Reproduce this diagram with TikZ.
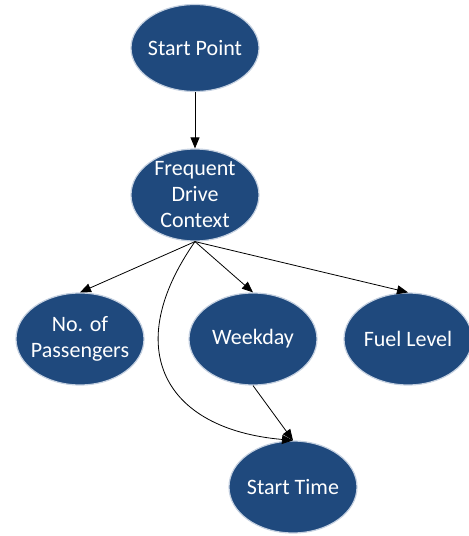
\documentclass[tikz,border=0pt]{standalone}
\usepackage{fontspec}
\setmainfont{Carlito}
\usepackage{xcolor}
\definecolor{ctxBlue}{RGB}{31, 73, 125}
\definecolor{ctxGlow}{RGB}{196, 208, 224}
\usetikzlibrary{
    shapes.geometric,
    arrows.meta,
    positioning
}
\begin{document}
\begin{tikzpicture}[
    x=1pt, y=1pt,
    ctxNode/.style={
        ellipse, fill=ctxBlue, draw=ctxGlow, line width=1.2pt,
        text=white, align=center, inner xsep=-40pt, inner ysep=-30pt,
        font=\fontsize{22}{26}\selectfont,
        minimum width=128pt, minimum height=92pt
    },
    ctxArrow/.style={
        -{Triangle[length=11pt, width=9pt]}, line width=0.8pt, draw=black
    }
]
    \useasboundingbox (0, 0) rectangle (469, 536);

    % Nodes
    \node[ctxNode, minimum height=87pt] (nStart) at (195, 488) {Start Point};
    \node[ctxNode] (nFreq) at (195, 341) {Frequent\\Drive\\Context};
    \node[ctxNode] (nPass) at (80, 197) {No. of\\Passengers};
    \node[ctxNode] (nWeek) at (253, 197) {Weekday};
    \node[ctxNode] (nFuel) at (408, 197) {Fuel Level};
    \node[ctxNode] (nTime) at (293, 49) {Start Time};

    % Connectors
    \draw[ctxArrow] (nStart.south) -- (nFreq.north);
    \draw[ctxArrow] (nFreq.south) -- (nPass.north);
    \draw[ctxArrow] (nFreq.south) -- (nWeek.north);
    \draw[ctxArrow] (nFreq.south) -- (nFuel.north);
    \draw[ctxArrow] (nWeek.south) -- (nTime.north);
    \draw[ctxArrow] (nFreq.south) to[out=-125, in=175, looseness=1.5] (nTime.north);

\end{tikzpicture}
\end{document}
